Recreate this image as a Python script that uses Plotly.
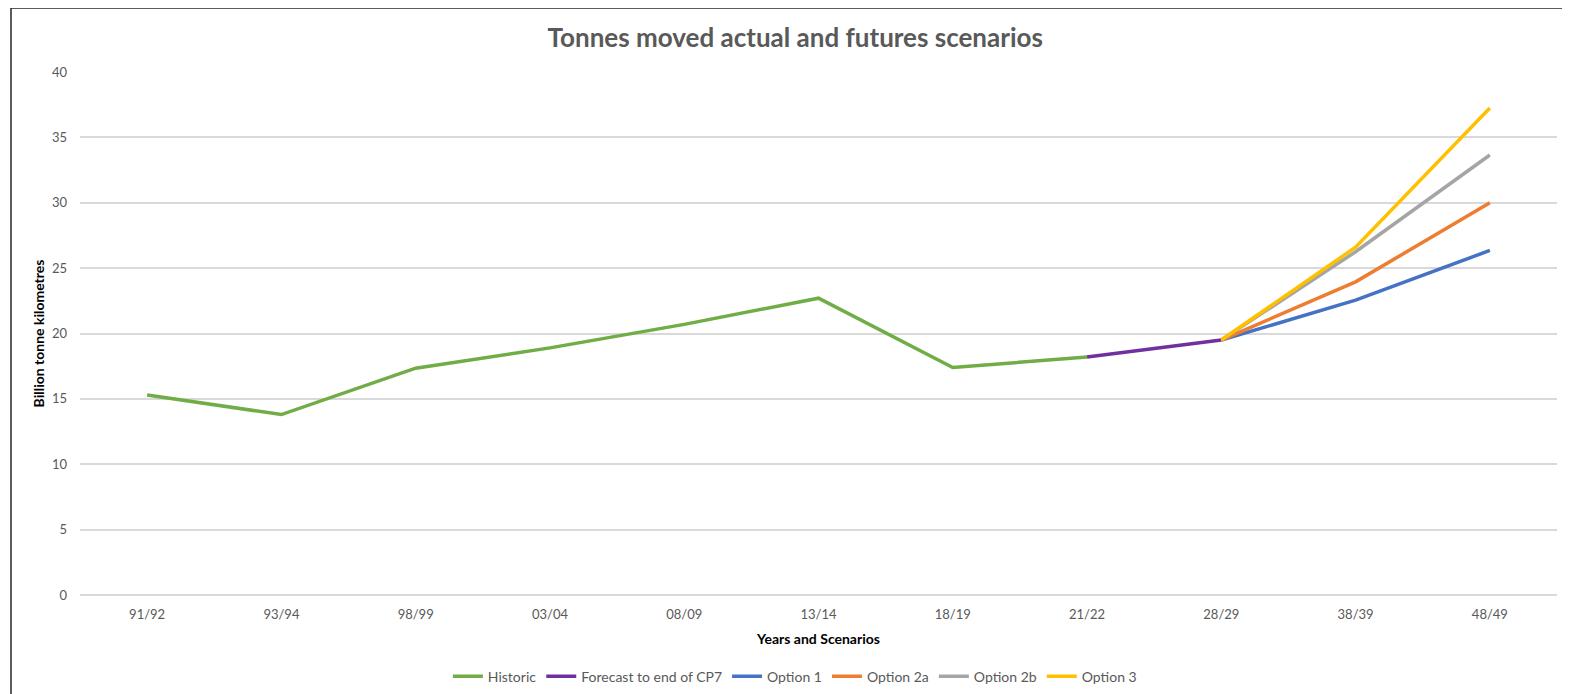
import plotly.graph_objects as go

categories = ["91/92", "93/94", "98/99", "03/04", "08/09", "13/14", "18/19", "21/22", "28/29", "38/39", "48/49"]

historic_x = categories[:8]
historic = [15.3, 13.8, 17.35, 18.9, 20.7, 22.7, 17.4, 18.2]

forecast_x = ["21/22", "28/29"]
forecast = [18.2, 19.5]

option_x = ["28/29", "38/39", "48/49"]
option1 = [19.5, 22.55, 26.35]
option2a = [19.5, 23.95, 30.0]
option2b = [19.5, 26.25, 33.65]
option3 = [19.5, 26.6, 37.25]

series = [
    ("Historic", historic_x, historic, "#70AD47"),
    ("Forecast to end of CP7", forecast_x, forecast, "#7030A0"),
    ("Option 1", option_x, option1, "#4472C4"),
    ("Option 2a", option_x, option2a, "#ED7D31"),
    ("Option 2b", option_x, option2b, "#A5A5A5"),
    ("Option 3", option_x, option3, "#FFC000"),
]

fig = go.Figure()
for name, xs, ys, color in series:
    fig.add_trace(go.Scatter(x=xs, y=ys, name=name, mode="lines",
                             line=dict(color=color, width=3.5)))

FONT = "Lato, 'Open Sans', sans-serif"

# page body has an 8px margin, so the figure is sized/offset to compensate
fig.update_layout(
    width=1562, height=686,
    margin=dict(l=72, r=13, t=64, b=99, autoexpand=False),
    paper_bgcolor="white", plot_bgcolor="white",
    font=dict(family=FONT, color="#595959", size=13),
    title=dict(text="<b>Tonnes moved actual and futures scenarios</b>",
               x=0.504, xanchor="center", y=0.956, yanchor="middle",
               font=dict(size=26, color="#595959", family=FONT)),
    showlegend=True,
    legend=dict(orientation="h", x=0.484, xanchor="center", y=-0.156, yanchor="middle",
                font=dict(size=14, color="#595959", family=FONT),
                itemwidth=30, tracegroupgap=0),
)
fig.update_xaxes(type="category", categoryorder="array", categoryarray=categories,
                 range=[-0.5, 10.5], showgrid=False, showline=False, zeroline=False,
                 ticks="", ticklabelstandoff=10, automargin=False,
                 tickfont=dict(size=13, color="#595959"),
                 title=dict(text="<b>Years and Scenarios</b>", standoff=13,
                            font=dict(size=14, color="black", family=FONT)))
fig.update_yaxes(range=[0, 40], dtick=5, showgrid=True, gridcolor="#D9D9D9", gridwidth=1.5,
                 zeroline=True, zerolinecolor="#D9D9D9", zerolinewidth=1.5,
                 showline=False, ticks="", ticklabelstandoff=12, automargin=False,
                 tickfont=dict(size=13, color="#595959"),
                 title=dict(text="<b>Billion tonne kilometres</b>", standoff=4,
                            font=dict(size=14, color="black", family=FONT)))

# chart border (outer frame)
fig.add_shape(type="line", xref="paper", yref="paper",
              x0=(11 - 80) / 1477, x1=(11 - 80) / 1477, y0=(595 - 700) / 523, y1=(595 - 8) / 523,
              line=dict(color="#262626", width=1.5))
fig.add_shape(type="line", xref="paper", yref="paper",
              x0=(11 - 80) / 1477, x1=(1575 - 80) / 1477, y0=(595 - 8) / 523, y1=(595 - 8) / 523,
              line=dict(color="#262626", width=1.5))

fig.write_html("out.html")
